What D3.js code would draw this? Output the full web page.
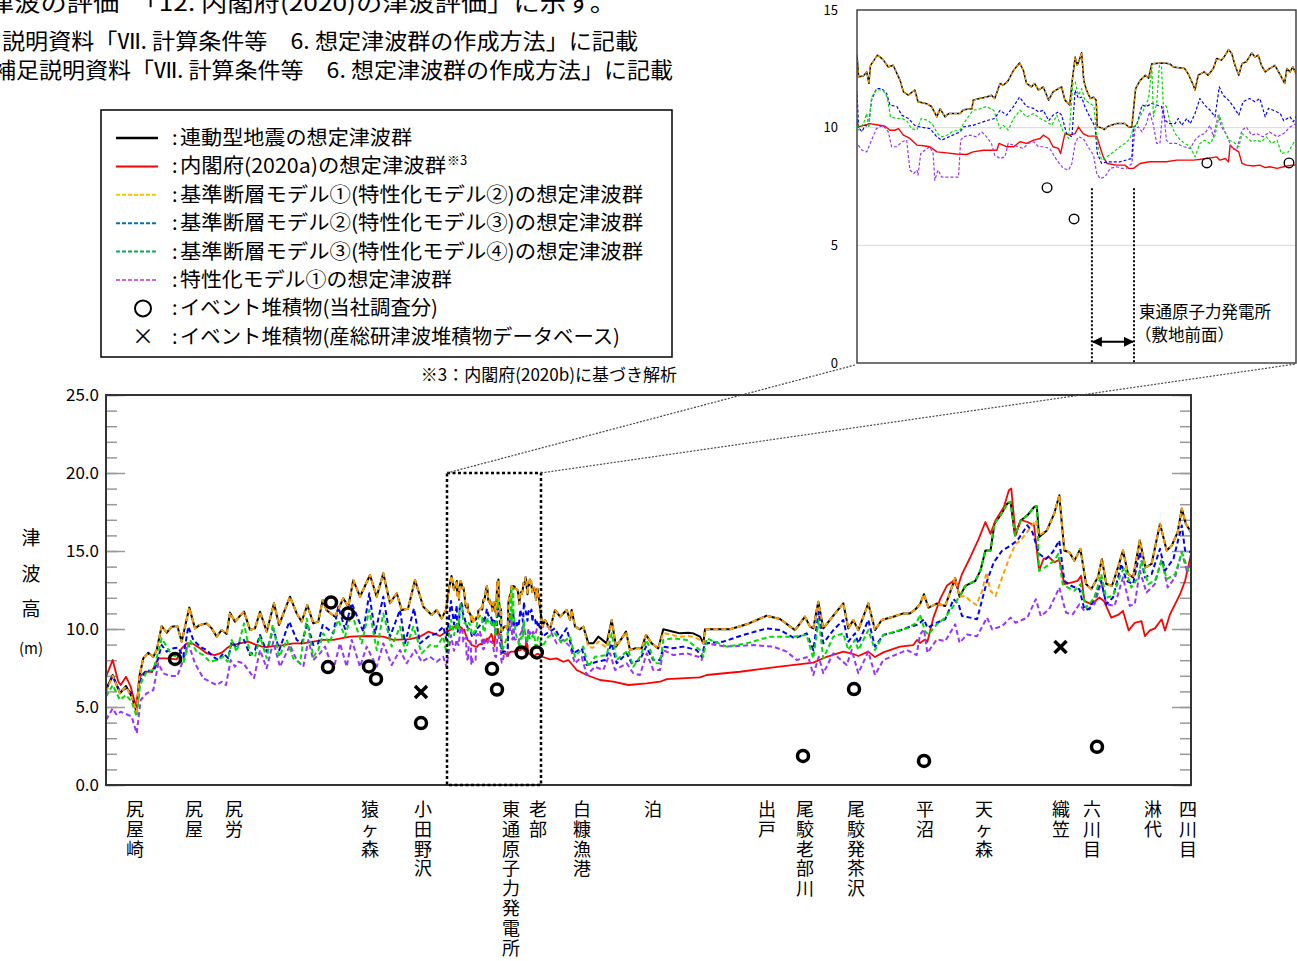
<!DOCTYPE html>
<html><head><meta charset="utf-8">
<script src="https://cdn.jsdelivr.net/npm/d3@7"></script>
<style>
body{margin:0;background:#fff;}
svg{display:block;}
text{font-family:"Noto Sans CJK JP","Noto Sans",sans-serif;fill:#000;}
</style></head><body>
<svg id="c" width="1297" height="961"></svg>
<script>
// ---------------- DATA ----------------
const placeNames = ["尻屋崎","尻屋","尻労","猿ヶ森","小田野沢","東通原子力発電所","老部","白糠漁港","泊","出戸","尾駮老部川","尾駮発茶沢","平沼","天ヶ森","織笠","六川目","淋代","四川目"];
const placePos = [2.9,8.8,12.8,26.4,31.7,40.5,43.2,47.6,54.7,66.1,69.9,75.0,81.9,87.8,95.5,98.6,104.7,108.2];
const yTickValues = [0,5,10,15,20,25];
const insetTickValues = [0,5,10,15];
const seriesNames = ["連動型地震の想定津波群","内閣府(2020a)の想定津波群","基準断層モデル①(特性化モデル②)の想定津波群","基準断層モデル②(特性化モデル③)の想定津波群","基準断層モデル③(特性化モデル④)の想定津波群","特性化モデル①の想定津波群","イベント堆積物(当社調査分)","イベント堆積物(産総研津波堆積物データベース)"];

const blackSeries = [[0,6.09],[0.67,7.05],[1.4,5.88],[2.0,6.35],[2.57,5.66],[3.07,4.7],[3.33,6.94],[3.73,8.12],[4.23,8.48],[4.73,8.22],[5.07,8.65],[5.57,10.19],[6.07,9.76],[6.57,10.15],[7.13,10.19],[7.57,9.19],[8.33,11.37],[8.9,10.04],[9.4,10.26],[10.07,10.36],[10.57,10.04],[11.07,9.51],[11.57,9.94],[12.07,9.68],[12.4,11.05],[12.9,10.47],[13.33,10.79],[13.8,11.11],[14.4,9.94],[14.9,10.04],[15.4,11.11],[16.07,9.83],[16.8,11.65],[17.3,10.26],[18.4,12.07],[19.07,11.0],[19.57,10.47],[20.13,11.54],[20.73,10.36],[21.23,10.47],[21.67,11.86],[22.07,11.2],[22.9,10.79],[23.73,11.97],[24.23,11.43],[24.73,13.14],[25.4,12.07],[26.4,13.46],[27.07,12.07],[27.73,13.57],[28.4,11.65],[29.07,12.29],[29.57,11.22],[30.2,11.3],[30.9,13.14],[31.73,11.43],[32.57,10.9],[33.07,11.22],[33.57,10.68],[34.0,11.22],[34.3,12.6],[34.55,13.4],[34.8,12.5],
[35.08,13.08],[35.11,12.16],[35.2,12.2],[35.26,12.37],[35.3,11.88],[35.33,12.65],[35.46,13.08],[35.56,12.9],[35.66,12.58],[35.75,12.65],[35.88,12.0],[35.94,11.52],[36.03,11.38],[36.15,11.6],[36.21,11.1],[36.37,11.02],[36.46,10.9],[36.56,10.46],[36.62,10.8],[36.71,10.46],[36.78,10.6],[36.99,10.6],[37.05,10.76],[37.21,10.8],[37.23,11.17],[37.35,11.24],[37.48,11.3],[37.57,11.38],[37.63,11.24],[37.73,11.88],[37.79,11.8],[37.88,12.0],[37.98,12.44],[38.09,12.75],[38.16,12.44],[38.22,11.88],[38.31,11.73],[38.37,11.88],[38.44,11.6],[38.53,11.73],[38.63,11.17],[38.71,11.52],[38.81,11.66],[38.87,11.73],[38.93,11.17],[39.02,10.96],[39.06,11.88],[39.12,13.0],[39.16,12.65],[39.2,12.9],[39.24,13.18],[39.28,12.0],[39.33,11.6],[39.4,11.24],[39.46,11.3],[39.51,11.17],[39.53,10.03],[39.61,10.0],[39.66,9.92],[39.73,10.06],[39.89,10.18],[40.04,10.18],[40.11,10.03],[40.17,10.03],[40.2,10.74],[40.24,11.66],[40.32,12.0],[40.42,12.23],[40.48,12.1],[40.54,12.72],[40.75,12.75],[40.87,12.72],[40.94,12.58],[41.15,12.51],[41.21,12.3],[41.31,11.8],[41.34,11.6],[41.4,12.23],[41.51,12.37],[41.58,12.23],[41.68,12.51],[41.74,12.94],[41.83,12.87],[41.9,13.08],[41.96,13.32],[42.02,13.15],[42.08,12.65],[42.15,12.23],[42.21,12.72],[42.29,12.8],[42.39,13.18],[42.45,13.0],[42.51,13.08],[42.57,12.65],[42.64,12.37],[42.72,12.51],[42.82,12.65],[42.92,12.23],[43.0,11.88],[43.04,12.51],[43.1,12.37],[43.15,12.58],[43.21,12.3],
[43.65,10.15],[43.9,10.58],[44.4,9.98],[44.9,11.22],[45.4,10.79],[46.07,11.22],[46.4,10.58],[46.57,11.22],[46.9,10.15],[47.4,9.98],[47.73,10.15],[48.23,9.08],[48.73,9.08],[49.23,9.51],[50.07,9.08],[50.57,10.58],[51.0,8.87],[51.57,9.4],[52.0,9.83],[52.4,8.65],[52.9,8.76],[53.57,8.76],[54.0,9.62],[54.57,9.08],[55.23,8.76],[55.73,9.98],[56.73,9.83],[57.4,9.72],[58.23,9.76],[58.73,9.72],[59.4,9.51],[59.73,9.08],[59.9,9.98],[61.07,9.98],[62.4,9.98],[64.07,10.3],[66.07,10.85],[67.4,10.64],[68.9,9.93],[69.9,10.79],[70.4,10.15],[70.73,10.04],[71.23,11.75],[71.73,10.04],[72.73,10.85],[73.73,11.65],[74.23,10.04],[74.73,10.58],[75.23,9.93],[76.23,11.65],[76.9,9.93],[77.57,10.58],[78.73,10.79],[79.73,11.0],[80.4,11.0],[81.0,11.3],
[81.4,11.59],[81.8,12.23],[82.24,11.37],[83.08,11.63],[83.92,11.48],[84.92,13.26],[85.36,12.06],[85.93,12.77],[86.43,12.92],[86.94,13.09],[87.44,13.74],[87.94,15.03],[88.45,15.03],[88.85,16.75],[89.45,17.29],[90.13,18.04],[90.46,18.15],[90.9,16.0],[91.47,16.96],[92.14,17.29],[92.81,17.82],[93.08,17.87],[93.31,15.89],[94.09,16.32],[94.82,17.39],[95.33,18.58],[95.83,15.03],[96.33,14.92],[96.84,14.38],[97.44,15.14],[98.01,12.88],[98.52,12.55],[99.19,13.31],[99.59,14.49],[100.03,12.88],[100.6,12.77],[101.2,13.95],[101.7,15.03],[102.21,13.52],[102.71,13.31],[103.38,15.67],[103.95,13.95],[104.56,14.17],[105.4,16.75],[106.07,15.03],[106.57,15.35],[107.17,16.21],[107.58,17.72],[107.98,16.75],[108.5,16.21]];

const orangeSeries = [[0,5.95],[0.67,7.0],[1.4,5.88],[2.0,6.3],[2.57,5.66],[3.07,4.7],[3.33,6.94],[3.73,8.12],[4.23,8.48],[4.73,8.22],[5.07,8.65],[5.57,10.19],[6.07,9.76],[6.57,10.15],[7.13,10.19],[7.57,9.19],[8.33,11.37],[8.9,10.04],[9.4,10.26],[10.07,10.36],[10.57,10.04],[11.07,9.51],[11.57,9.94],[12.07,9.68],[12.4,11.05],[12.9,10.47],[13.33,10.79],[13.8,11.11],[14.4,9.94],[14.9,10.04],[15.4,11.11],[16.07,9.83],[16.8,11.65],[17.3,10.26],[18.4,12.07],[19.07,11.0],[19.57,10.47],[20.13,11.54],[20.73,10.36],[21.23,10.47],[21.67,11.86],[22.07,11.2],[22.9,10.79],[23.73,11.97],[24.23,11.43],[24.73,13.14],[25.4,12.07],[26.4,13.46],[27.07,12.07],[27.73,13.57],[28.4,11.65],[29.07,12.29],[29.57,11.22],[30.2,11.3],[30.9,13.14],[31.73,11.43],[32.57,10.9],[33.07,11.22],[33.57,10.68],[34.0,11.22],[34.3,12.6],[34.55,13.4],[34.8,12.5],
[35.08,13.08],[35.11,12.16],[35.2,12.2],[35.26,12.37],[35.3,11.88],[35.33,12.65],[35.46,13.08],[35.56,12.9],[35.66,12.58],[35.75,12.65],[35.88,12.0],[35.94,11.52],[36.03,11.38],[36.15,11.6],[36.21,11.1],[36.37,11.02],[36.46,10.9],[36.56,10.46],[36.62,10.8],[36.71,10.46],[36.78,10.6],[36.99,10.6],[37.05,10.76],[37.21,10.8],[37.23,11.17],[37.35,11.24],[37.48,11.3],[37.57,11.38],[37.63,11.24],[37.73,11.88],[37.79,11.8],[37.88,12.0],[37.98,12.44],[38.09,12.75],[38.16,12.44],[38.22,11.88],[38.31,11.73],[38.37,11.88],[38.44,11.6],[38.53,11.73],[38.63,11.17],[38.71,11.52],[38.81,11.66],[38.87,11.73],[38.93,11.17],[39.02,10.96],[39.06,11.88],[39.12,13.0],[39.16,12.65],[39.2,12.9],[39.24,13.18],[39.28,12.0],[39.33,11.6],[39.4,11.24],[39.46,11.3],[39.51,11.17],[39.53,10.03],[39.61,10.0],[39.66,9.92],[39.73,10.06],[39.89,10.18],[40.04,10.18],[40.11,10.03],[40.17,10.03],[40.2,10.74],[40.24,11.66],[40.32,12.0],[40.42,12.23],[40.48,12.1],[40.54,12.72],[40.75,12.75],[40.87,12.72],[40.94,12.58],[41.15,12.51],[41.21,12.3],[41.31,11.8],[41.34,11.6],[41.4,12.23],[41.51,12.37],[41.58,12.23],[41.68,12.51],[41.74,12.94],[41.83,12.87],[41.9,13.08],[41.96,13.32],[42.02,13.15],[42.08,12.65],[42.15,12.23],[42.21,12.72],[42.29,12.8],[42.39,13.18],[42.45,13.0],[42.51,13.08],[42.57,12.65],[42.64,12.37],[42.72,12.51],[42.82,12.65],[42.92,12.23],[43.0,11.88],[43.04,12.51],[43.1,12.37],[43.15,12.58],[43.21,12.3],
[43.65,10.15],[43.9,10.58],[44.4,9.98],[44.9,11.22],[45.4,10.79],[46.07,11.22],[46.4,10.58],[46.57,11.22],[46.9,10.15],[47.4,9.98],[47.73,10.15],[48.23,8.85],[48.73,8.8],[49.23,9.2],[50.07,8.8],[50.57,10.58],[51.0,8.87],[51.57,9.4],[52.0,9.83],[52.4,8.65],[52.9,8.76],[53.57,8.76],[54.0,9.62],[54.57,9.08],[55.23,8.76],[55.73,9.75],[56.73,9.6],[57.4,9.5],[58.23,9.55],[58.73,9.5],[59.4,9.3],[59.73,9.08],[59.9,9.98],[61.07,9.98],[62.4,9.98],[64.07,10.3],[66.07,10.85],[67.4,10.64],[68.9,9.93],[69.9,10.79],[70.4,10.15],[70.73,10.04],[71.23,11.75],[71.73,10.04],[72.73,10.85],[73.73,11.65],[74.23,10.04],[74.73,10.58],[75.23,9.93],[76.23,11.65],[76.9,9.93],[77.57,10.58],[78.73,10.79],[79.73,11.0],[80.4,11.0],[81.0,11.3],
[81.4,11.59],[81.8,12.23],[82.24,11.37],[83.08,11.63],[83.92,11.48],[84.92,13.26],[85.36,12.06],[85.93,12.12],[86.43,11.8],[87.04,11.54],[87.61,12.45],[88.05,13.63],[88.45,12.45],[88.95,12.12],[89.62,13.31],[90.29,14.49],[90.96,15.46],[91.47,15.67],[91.97,16.1],[92.48,16.53],[92.98,16.96],[93.31,16.0],[94.09,16.32],[94.82,17.39],[95.33,18.58],[95.83,15.03],[96.33,14.92],[96.84,14.38],[97.44,15.14],[98.01,12.88],[98.52,12.55],[99.19,13.31],[99.59,14.49],[100.03,12.88],[100.6,12.77],[101.2,13.95],[101.7,15.03],[102.21,13.52],[102.71,13.31],[103.38,15.67],[103.95,13.95],[104.56,14.17],[105.4,16.75],[106.07,15.03],[106.57,15.35],[107.17,16.21],[107.58,17.72],[107.98,16.75],[108.5,16.21]];

const redSeries = [[0,6.94],[0.67,8.01],[1.23,6.62],[1.47,6.41],[2.0,6.94],[2.47,6.3],[3.0,5.02],[3.4,6.94],[3.9,7.26],[4.57,7.26],[5.23,8.12],[6.07,8.12],[7.07,8.05],[7.57,8.76],[8.07,9.08],[8.73,9.04],[9.4,8.76],[10.07,8.44],[10.9,8.33],[11.57,8.48],[12.07,8.76],[12.57,8.97],[13.4,9.08],[14.23,9.19],[15.07,8.97],[15.9,8.83],[16.73,8.9],[17.73,8.97],[18.73,9.08],[19.73,9.08],[20.73,9.19],[21.73,9.3],[22.73,9.3],[24.4,9.51],[26.07,9.55],[27.73,9.51],[28.73,9.3],[30.4,9.35],[31.4,9.51],[32.23,9.83],[32.73,9.72],[33.4,9.55],[34.0,9.8],[34.6,10.0],
[35.08,10.3],[35.11,10.03],[35.2,10.1],[35.32,10.17],[35.5,10.1],[35.6,10.06],[35.69,9.89],[35.78,9.89],[35.85,9.96],[35.94,9.68],[36.06,9.54],[36.19,9.26],[36.31,9.23],[36.43,9.19],[36.56,8.97],[36.74,8.93],[36.92,8.88],[37.11,8.86],[37.23,8.97],[37.42,9.04],[37.67,9.04],[37.71,9.33],[37.85,9.19],[37.98,9.19],[38.1,9.4],[38.22,9.33],[38.35,9.47],[38.47,9.54],[38.53,9.68],[38.63,9.54],[38.71,9.19],[38.81,9.12],[38.85,8.9],[38.93,9.75],[39.02,9.68],[39.12,9.75],[39.18,10.03],[39.27,9.75],[39.36,9.64],[39.52,9.64],[39.58,9.19],[39.64,8.76],[39.71,8.48],[39.89,8.41],[40.04,8.41],[40.11,8.27],[40.2,8.27],[40.32,8.48],[40.5,8.55],[40.81,8.55],[41.0,8.62],[41.31,8.62],[41.56,8.69],[41.74,8.76],[41.8,8.62],[41.9,8.69],[41.96,8.55],[41.99,9.26],[42.05,9.12],[42.15,8.97],[42.21,8.48],[42.29,8.41],[42.42,8.37],[42.54,8.41],[42.64,8.3],[42.72,8.34],[42.86,8.27],[42.98,8.34],[43.13,8.41],[43.21,8.41],
[43.65,8.22],[44.4,8.05],[45.07,8.12],[45.73,7.9],[46.23,8.01],[47.07,7.37],[48.07,7.05],[49.4,6.73],[50.73,6.62],[52.23,6.41],[54.07,6.52],[55.4,6.62],[56.07,6.79],[59.4,6.9],[60.07,7.05],[63.4,7.26],[66.73,7.54],[70.73,7.84],[72.07,8.22],[73.73,8.55],[74.73,8.4],[75.23,8.27],[76.23,8.55],[76.9,8.2],[77.73,8.5],[79.4,8.87],[80.73,8.97],[81.1,9.3],
[81.4,9.11],[81.9,9.33],[82.14,9.18],[82.74,10.73],[83.41,11.91],[84.08,12.77],[84.76,13.09],[85.16,12.66],[85.6,13.52],[86.43,14.6],[87.27,15.78],[87.94,16.86],[88.45,16.1],[88.95,16.96],[89.79,17.82],[90.29,18.9],[90.53,19.01],[90.96,16.0],[91.47,17.0],[92.14,16.86],[92.81,16.64],[93.31,13.74],[93.75,14.49],[94.32,14.6],[94.82,14.28],[95.33,14.43],[95.83,12.88],[96.5,12.98],[97.17,13.09],[97.51,13.41],[97.84,11.8],[98.52,11.59],[99.35,12.02],[99.79,11.8],[100.53,10.73],[101.2,10.9],[101.7,11.16],[102.27,9.91],[102.88,10.4],[103.55,10.51],[103.89,9.54],[104.39,9.91],[104.89,10.04],[105.56,10.62],[105.9,9.91],[106.4,10.94],[106.91,11.59],[107.41,12.23],[107.91,13.09],[108.5,14.8]];

const blueSeries = [[0,6.2],[0.67,6.94],[1.4,5.98],[2.0,6.2],[2.57,5.88],[3.07,4.6],[3.4,6.73],[4.07,7.37],[4.73,7.26],[5.07,7.8],[5.57,8.97],[6.07,8.55],[6.73,8.76],[7.23,8.8],[7.73,8.22],[8.23,10.15],[8.73,9.3],[9.4,8.87],[10.07,8.65],[10.73,8.22],[11.23,8.01],[11.73,8.44],[12.23,8.12],[12.57,9.19],[13.07,8.8],[13.4,9.19],[13.8,9.3],[14.4,8.33],[14.9,8.65],[15.4,9.62],[16.07,8.55],[16.73,10.04],[17.33,8.65],[18.33,10.47],[19.07,9.3],[19.57,9.08],[20.13,10.36],[20.73,8.97],[21.23,9.08],[21.67,10.26],[22.73,9.72],[23.23,11.43],[23.9,10.0],[24.57,11.65],[25.73,9.83],[26.33,12.29],[26.9,9.72],[27.73,12.07],[28.4,9.51],[29.4,11.22],[29.9,9.08],[30.8,11.33],[31.4,9.08],[32.23,9.51],[33.07,9.72],[33.73,10.15],[34.05,9.3],[34.5,11.8],[34.8,10.3],
[35.08,11.52],[35.11,10.03],[35.17,9.82],[35.23,10.1],[35.29,10.03],[35.35,11.17],[35.44,11.66],[35.54,11.66],[35.63,11.45],[35.69,10.96],[35.82,10.9],[35.91,10.53],[36.03,10.39],[36.15,10.1],[36.25,10.03],[36.43,9.96],[36.56,9.61],[36.65,9.47],[36.78,9.61],[36.99,9.82],[37.05,10.03],[37.23,10.1],[37.48,10.3],[37.63,10.39],[37.73,10.74],[37.85,10.53],[37.98,10.9],[38.09,11.3],[38.22,10.9],[38.35,10.82],[38.44,10.67],[38.53,10.74],[38.63,10.3],[38.71,10.53],[38.81,10.67],[38.87,10.53],[38.96,9.75],[39.06,9.61],[39.12,11.59],[39.18,11.24],[39.24,11.3],[39.3,10.9],[39.36,10.6],[39.43,10.3],[39.49,10.03],[39.53,8.9],[39.61,8.48],[39.71,8.55],[39.95,8.55],[40.17,8.69],[40.2,10.03],[40.26,10.1],[40.36,10.96],[40.44,10.9],[40.54,11.03],[40.63,10.96],[40.72,10.9],[40.79,10.3],[40.87,10.17],[40.97,10.17],[41.03,10.39],[41.09,10.1],[41.19,10.39],[41.25,10.17],[41.34,10.6],[41.43,11.24],[41.52,10.96],[41.62,10.74],[41.71,10.46],[41.79,11.73],[41.86,11.38],[41.96,11.17],[42.05,10.9],[42.15,10.53],[42.23,11.1],[42.35,11.24],[42.45,11.1],[42.54,11.24],[42.64,10.46],[42.7,10.82],[42.79,10.74],[42.92,10.6],[42.98,10.3],[43.1,10.46],[43.16,10.25],[43.21,10.46],
[43.65,9.51],[44.07,9.72],[44.9,10.04],[45.4,9.4],[46.07,10.04],[46.73,8.44],[47.57,8.76],[48.07,7.69],[49.07,7.9],[49.9,8.01],[50.57,9.08],[51.07,7.8],[52.07,8.44],[52.57,7.8],[53.4,8.01],[54.0,8.87],[54.73,8.01],[55.4,8.01],[55.73,8.87],[56.73,8.76],[57.73,8.87],[59.07,8.65],[59.57,8.22],[59.9,9.08],[61.73,9.19],[63.73,9.62],[66.07,10.04],[67.4,9.93],[68.9,9.4],[70.07,9.72],[70.73,8.65],[71.27,11.11],[71.73,9.08],[72.73,9.93],[73.73,10.58],[74.23,9.19],[74.9,9.72],[75.23,9.08],[76.23,10.58],[76.9,8.87],[77.73,9.62],[79.07,9.83],[80.4,10.15],[81.07,10.26],
[81.4,10.4],[81.8,10.62],[82.14,10.08],[83.08,10.4],[83.92,10.62],[84.76,11.91],[85.26,11.59],[85.6,10.83],[86.43,10.73],[87.1,10.62],[88.11,13.09],[88.78,14.28],[89.62,15.03],[90.46,15.35],[91.13,15.67],[92.14,16.64],[92.64,16.21],[93.31,14.82],[93.99,14.49],[94.66,14.92],[95.33,15.67],[95.83,13.09],[96.5,12.77],[97.34,12.55],[97.84,11.27],[98.35,11.27],[98.85,12.02],[99.52,13.09],[100.03,11.59],[100.7,12.02],[101.54,14.17],[102.04,13.09],[102.71,12.88],[103.38,14.92],[103.89,13.31],[104.56,13.52],[105.4,15.14],[105.9,13.74],[106.74,14.49],[107.58,16.64],[107.91,15.03],[108.5,14.92]];

const greenSeries = [[0,5.66],[0.67,6.41],[1.4,5.45],[2.0,5.77],[2.57,5.34],[3.07,4.38],[3.4,6.41],[4.07,7.26],[4.73,7.37],[5.23,8.55],[5.57,9.4],[6.07,8.87],[6.57,8.33],[7.23,8.22],[7.73,7.8],[8.4,9.3],[9.07,8.55],[9.73,8.33],[10.4,7.9],[11.07,8.01],[11.73,8.22],[12.17,7.9],[12.57,9.3],[13.07,8.55],[13.8,10.36],[14.4,8.44],[14.9,8.22],[15.4,9.51],[16.07,8.12],[16.67,10.26],[17.33,8.22],[18.07,9.3],[18.73,8.12],[19.4,7.8],[20.07,10.68],[20.73,8.22],[21.23,8.65],[21.73,9.72],[22.33,9.08],[23.23,10.58],[23.9,9.51],[24.57,11.0],[25.57,9.08],[26.33,11.22],[27.07,8.65],[27.73,11.0],[28.57,8.87],[29.4,10.15],[29.9,8.55],[30.73,10.15],[31.57,8.44],[32.4,8.97],[33.07,8.87],[33.73,9.51],[34.05,8.44],[34.5,10.6],[34.8,9.6],
[35.08,10.4],[35.11,9.9],[35.2,10.17],[35.26,10.6],[35.3,10.0],[35.35,11.3],[35.44,11.6],[35.56,11.6],[35.64,11.3],[35.7,10.46],[35.82,10.39],[35.91,10.39],[36.0,10.3],[36.09,9.96],[36.19,9.9],[36.27,10.39],[36.4,10.3],[36.49,10.1],[36.57,9.75],[36.65,9.61],[36.74,9.68],[36.86,9.85],[36.99,9.9],[37.05,10.17],[37.23,10.74],[37.35,10.8],[37.48,10.9],[37.61,10.74],[37.73,9.96],[37.79,10.1],[37.88,9.9],[37.98,10.39],[38.1,10.74],[38.22,10.46],[38.35,10.6],[38.47,10.39],[38.59,10.25],[38.69,10.1],[38.78,10.53],[38.9,9.82],[39.0,9.54],[39.08,11.88],[39.12,11.95],[39.18,11.38],[39.24,11.66],[39.3,11.17],[39.4,11.03],[39.47,10.9],[39.53,9.33],[39.61,8.62],[39.71,8.76],[39.83,8.97],[39.95,9.19],[40.04,9.33],[40.14,9.54],[40.2,10.03],[40.26,10.17],[40.32,10.46],[40.42,10.9],[40.48,11.24],[40.54,12.58],[40.57,10.46],[40.63,11.03],[40.68,12.65],[40.72,12.58],[40.75,11.03],[40.81,10.9],[40.87,10.3],[40.97,9.75],[41.07,9.47],[41.15,9.33],[41.25,9.19],[41.34,8.76],[41.43,9.33],[41.52,9.47],[41.62,9.33],[41.71,9.68],[41.79,10.53],[41.86,10.03],[41.96,9.47],[42.05,9.4],[42.15,9.19],[42.21,9.75],[42.29,9.61],[42.39,9.4],[42.48,9.47],[42.57,9.4],[42.66,9.61],[42.76,9.33],[42.86,9.47],[42.94,8.9],[43.07,8.97],[43.16,9.33],[43.21,9.47],
[43.65,8.87],[44.23,9.51],[44.9,9.72],[45.57,9.08],[46.4,9.51],[46.9,8.22],[47.73,8.87],[48.23,7.58],[48.9,8.22],[50.07,8.33],[50.57,9.72],[51.07,8.01],[52.23,8.65],[52.73,7.58],[53.4,8.22],[54.07,9.3],[54.9,7.8],[55.4,7.8],[55.73,9.3],[56.73,9.4],[58.07,9.3],[59.4,8.65],[59.73,8.22],[60.07,9.4],[62.07,8.87],[64.07,9.08],[66.4,9.51],[68.73,9.51],[70.07,9.62],[70.73,8.12],[71.27,10.58],[71.73,8.12],[72.73,9.51],[73.73,9.72],[74.23,8.65],[74.9,9.3],[75.23,8.65],[76.23,9.93],[76.9,8.65],[77.73,9.62],[80.07,10.04],[81.07,10.4],
[81.4,10.94],[81.9,9.86],[82.24,9.65],[83.08,10.3],[83.92,10.73],[84.76,11.48],[85.16,11.91],[85.36,12.06],[85.93,12.77],[86.43,12.92],[86.94,13.09],[87.44,13.74],[87.94,15.03],[88.45,15.03],[88.85,16.75],[89.45,17.29],[90.13,18.04],[90.46,18.15],[90.9,16.0],[91.47,16.96],[92.14,17.29],[92.81,17.82],[93.08,17.87],[93.31,13.74],[93.65,13.84],[94.15,14.06],[94.82,14.38],[95.23,14.82],[95.66,12.88],[96.17,12.66],[96.84,12.45],[97.44,12.88],[98.01,11.37],[98.85,12.02],[99.52,13.52],[100.03,12.02],[100.7,12.12],[101.54,13.63],[101.87,13.95],[102.54,12.66],[103.21,13.31],[103.55,14.38],[104.22,12.88],[104.89,13.09],[105.56,14.38],[106.07,13.2],[106.91,13.52],[107.58,14.92],[108.25,13.74],[108.5,13.95]];

const purpleSeries = [[0,4.17],[0.67,4.91],[1.07,4.49],[1.47,4.7],[2.0,4.55],[2.57,4.38],[3.07,3.31],[3.47,5.45],[4.07,5.88],[4.73,6.09],[5.23,7.8],[5.73,7.16],[6.4,6.99],[7.13,6.99],[7.73,8.01],[8.23,9.08],[8.9,7.8],[9.73,6.84],[10.4,6.62],[11.07,6.41],[11.57,6.62],[12.0,6.41],[12.47,8.01],[12.9,7.58],[13.23,7.9],[13.73,7.8],[14.23,7.37],[14.8,6.84],[15.4,8.65],[16.07,7.48],[16.73,9.19],[17.4,7.58],[18.4,8.97],[19.07,8.01],[19.73,7.58],[20.23,9.3],[20.73,8.01],[21.4,8.44],[21.9,8.87],[22.73,7.37],[23.4,9.08],[24.07,7.58],[24.57,9.3],[25.4,7.58],[26.07,8.87],[27.07,7.58],[27.73,9.08],[28.57,7.69],[29.4,8.65],[30.07,7.8],[30.9,8.65],[31.57,7.9],[32.4,8.22],[33.07,7.9],[33.73,8.22],[34.05,7.58],[34.5,9.6],[34.8,8.6],
[35.08,9.33],[35.17,9.05],[35.26,8.97],[35.35,9.47],[35.44,9.96],[35.56,10.1],[35.66,9.82],[35.72,9.19],[35.82,9.19],[35.91,9.4],[36.0,9.47],[36.06,8.2],[36.13,8.05],[36.19,8.2],[36.21,7.98],[36.26,8.9],[36.34,9.05],[36.43,9.19],[36.49,8.9],[36.52,7.77],[36.58,8.2],[36.65,7.9],[36.74,7.9],[36.96,7.9],[37.0,9.47],[37.05,9.61],[37.17,9.68],[37.29,9.61],[37.39,9.82],[37.48,9.61],[37.57,9.33],[37.63,8.83],[37.73,8.69],[37.82,8.76],[37.88,9.33],[37.98,9.26],[38.06,9.19],[38.16,9.12],[38.25,9.33],[38.35,9.4],[38.44,9.19],[38.53,9.19],[38.65,9.12],[38.78,8.62],[38.9,8.27],[39.0,8.2],[39.06,8.48],[39.12,9.33],[39.18,9.61],[39.27,9.54],[39.36,9.19],[39.46,8.83],[39.52,8.05],[39.58,7.84],[39.67,7.9],[39.77,8.27],[39.89,8.34],[39.98,8.27],[40.07,8.27],[40.17,8.48],[40.23,9.96],[40.29,10.03],[40.36,9.82],[40.44,10.17],[40.5,10.67],[40.57,10.1],[40.63,9.33],[40.69,9.33],[40.75,10.9],[40.81,9.47],[40.87,9.33],[41.0,9.33],[41.13,9.19],[41.25,9.12],[41.34,9.47],[41.43,9.68],[41.52,9.75],[41.62,10.1],[41.68,9.61],[41.77,10.53],[41.83,10.03],[41.93,9.68],[42.02,9.12],[42.11,9.05],[42.21,9.89],[42.29,10.03],[42.39,9.68],[42.48,9.75],[42.6,9.61],[42.72,9.82],[42.86,9.61],[42.98,9.75],[43.1,10.03],[43.21,10.17],
[44.23,10.15],[45.07,9.08],[45.73,9.3],[46.4,8.87],[46.9,7.8],[47.57,8.22],[48.07,7.05],[48.9,7.58],[49.73,7.37],[50.4,8.44],[50.9,7.37],[52.07,7.8],[52.73,7.16],[53.4,7.05],[54.07,8.44],[54.73,7.37],[55.4,7.37],[55.73,8.65],[56.73,8.33],[58.07,8.44],[59.23,8.22],[59.57,8.01],[59.9,9.08],[62.07,8.87],[64.73,8.97],[66.73,8.87],[68.07,8.55],[69.07,8.01],[70.23,8.22],[70.73,7.05],[71.27,8.22],[71.73,7.16],[72.73,8.44],[74.07,7.69],[74.57,8.65],[75.23,7.16],[76.23,8.55],[76.9,7.05],[77.73,8.01],[80.07,8.65],[81.07,8.33],
[81.4,9.65],[81.8,9.97],[82.14,8.47],[83.08,9.33],[83.92,9.22],[84.92,10.3],[85.36,9.11],[86.1,9.65],[87.1,9.54],[88.11,10.73],[88.62,9.97],[89.62,10.19],[90.46,10.73],[90.96,10.4],[92.14,10.73],[92.98,11.91],[93.48,10.83],[94.32,11.27],[95.33,12.66],[96.0,11.05],[96.67,10.94],[97.34,11.59],[97.84,11.16],[98.18,11.27],[98.85,11.59],[99.52,12.98],[100.03,11.59],[100.86,11.48],[101.7,13.31],[102.38,11.48],[102.88,11.59],[103.38,13.74],[104.05,12.34],[104.89,12.88],[105.56,14.49],[106.17,12.66],[106.91,13.31],[107.58,14.92],[108.08,13.74],[108.5,14.17]];

const eventCircles = [[6.9,8.08],[22.2,7.56],[22.5,11.7],[24.2,11.0],[26.3,7.6],[27.0,6.8],[31.5,3.97],[38.6,7.45],[39.1,6.12],[41.56,8.5],[43.08,8.5],[69.7,1.86],[74.8,6.15],[81.8,1.54],[99.1,2.45]];
const eventCrosses = [[31.5,5.96],[95.45,8.85]];
const boxRange = [34.1,43.5];
const insetRange = [35.08,43.21];
const zoomBoxTop = 20;
const plantSpan = [39.43,40.21];
const plantMarkTop = 7.43;
const plantArrowAt = 0.9;

// ---------------- LAYOUT ----------------
const svg = d3.select("#c");
const M = {l:106, r:1191, t:395, b:785};
const I = {l:857, r:1296, t:10, b:363};
const x = d3.scaleLinear().domain([0,108.5]).range([M.l,M.r]);
const y = d3.scaleLinear().domain([0,25]).range([M.b,M.t]);
const xi = d3.scaleLinear().domain(insetRange).range([I.l,I.r]);
const yi = d3.scaleLinear().domain([0,15]).range([I.b,I.t]);

const styles = [
 {data:blackSeries, color:"#000", w:2, dash:null, iw:1.5},
 {data:redSeries, color:"#ff0000", w:1.8, dash:null, iw:1.4},
 {data:purpleSeries, color:"#9933ff", w:2, dash:"5,3", iw:1.2, idash:"3,2"},
 {data:blueSeries, color:"#0000ff", w:2, dash:"5,3", iw:1.2, idash:"3,2"},
 {data:greenSeries, color:"#00dd00", w:2, dash:"5,3", iw:1.2, idash:"3,2"},
 {data:orangeSeries, color:"#ffa000", w:2, dash:"5,3", iw:1.3, idash:"3,2"}
];

// ---- top texts ----
svg.append("text").attr("x",-12).attr("y",11).attr("font-size",22).attr("textLength",628).attr("lengthAdjust","spacingAndGlyphs")
  .text("津波の評価　「12. 内閣府(2020)の津波評価」に示す。");
svg.append("text").attr("x",2).attr("y",49).attr("font-size",21.5).attr("textLength",636).attr("lengthAdjust","spacingAndGlyphs")
  .text("説明資料「Ⅶ. 計算条件等　6. 想定津波群の作成方法」に記載");
svg.append("text").attr("x",-7).attr("y",78).attr("font-size",21.5).attr("textLength",680).attr("lengthAdjust","spacingAndGlyphs")
  .text("補足説明資料「Ⅶ. 計算条件等　6. 想定津波群の作成方法」に記載");

// ---- legend ----
const lg = svg.append("g");
lg.append("rect").attr("x",101).attr("y",110).attr("width",571).attr("height",247).attr("fill","#fff").attr("stroke","#000").attr("stroke-width",1.5);
const legendStyles = [
 {color:"#000", dash:null, w:2.5},
 {color:"#ff0000", dash:null, w:2},
 {color:"#ffc000", dash:"4,2", w:2},
 {color:"#0070c0", dash:"4,2", w:2},
 {color:"#00b050", dash:"4,2", w:2},
 {color:"#cc66cc", dash:"4,2", w:2},
 {mark:"o"},{mark:"x"}
];
const legendEnds = [412,446,643,643,643,452,438,620];
seriesNames.forEach((name,i)=>{
  const cy = 138 + i*28.4;
  const st = legendStyles[i];
  if(st.mark==="o"){
    lg.append("circle").attr("cx",143).attr("cy",cy).attr("r",8).attr("fill","none").attr("stroke","#000").attr("stroke-width",2);
  } else if(st.mark==="x"){
    lg.append("text").attr("x",143).attr("y",cy+7).attr("text-anchor","middle").attr("font-size",22).text("×");
  } else {
    lg.append("line").attr("x1",116).attr("x2",158).attr("y1",cy).attr("y2",cy).attr("stroke",st.color).attr("stroke-width",st.w).attr("stroke-dasharray",st.dash);
  }
  lg.append("text").attr("x",172).attr("y",cy+7).attr("font-size",20).text(":");
  lg.append("text").attr("x",180).attr("y",cy+7).attr("font-size",20)
     .attr("textLength",legendEnds[i]-180).attr("lengthAdjust","spacingAndGlyphs").text(name);
  if(i===1){
    lg.append("text").attr("x",447).attr("y",cy-1).attr("font-size",13).text("※3");
  }
});
svg.append("text").attr("x",677).attr("y",381).attr("text-anchor","end").attr("font-size",17).text("※3：内閣府(2020b)に基づき解析");

// ---- main plot ----
const gm = svg.append("g");
svg.append("clipPath").attr("id","mclip").append("rect").attr("x",M.l).attr("y",M.t).attr("width",M.r-M.l).attr("height",M.b-M.t);
const minor = d3.range(0,26,1);
const addTicks = (axis, xpos)=>gm.append("g").attr("transform",`translate(${xpos},0)`).call(axis)
   .call(g=>{g.select(".domain").remove(); g.selectAll("line").attr("stroke","#999").attr("stroke-width",1.5); g.selectAll("text").remove();});
addTicks(d3.axisRight(y).tickValues(minor).tickSize(11), M.l);
addTicks(d3.axisRight(y).tickValues(yTickValues).tickSize(19), M.l);
addTicks(d3.axisLeft(y).tickValues(minor).tickSize(11), M.r);
addTicks(d3.axisLeft(y).tickValues(yTickValues).tickSize(19), M.r);
gm.append("g").attr("transform",`translate(${M.l},0)`)
  .call(d3.axisLeft(y).tickValues(yTickValues).tickSize(0).tickPadding(7).tickFormat(d3.format(".1f")))
  .call(g=>{g.select(".domain").remove(); g.selectAll("text").attr("font-size",17).attr("fill","#000").attr("font-family","Liberation Sans, Arial, sans-serif");});

const lineM = d3.line().x(d=>x(d[0])).y(d=>y(d[1]));
const lines = gm.append("g").attr("clip-path","url(#mclip)");
styles.forEach(s=>{
  lines.append("path").attr("d",lineM(s.data)).attr("fill","none").attr("stroke",s.color)
    .attr("stroke-width",s.w).attr("stroke-dasharray",s.dash).attr("stroke-linejoin","round");
});
gm.append("rect").attr("x",M.l).attr("y",M.t).attr("width",M.r-M.l).attr("height",M.b-M.t).attr("fill","none").attr("stroke","#333").attr("stroke-width",2);

gm.selectAll(".ec").data(eventCircles).enter().append("circle")
  .attr("cx",d=>x(d[0])).attr("cy",d=>y(d[1])).attr("r",5.5).attr("fill","none").attr("stroke","#000").attr("stroke-width",3.5);
gm.selectAll(".ex").data(eventCrosses).enter().append("path")
  .attr("transform",d=>`translate(${x(d[0])},${y(d[1])})`)
  .attr("d","M-6,-6L6,6M-6,6L6,-6").attr("stroke","#000").attr("stroke-width",3.5).attr("fill","none");

gm.append("rect").attr("x",x(boxRange[0])).attr("y",y(zoomBoxTop)).attr("width",x(boxRange[1])-x(boxRange[0]))
  .attr("height",y(0)-y(zoomBoxTop)).attr("fill","none").attr("stroke","#000").attr("stroke-width",2.5).attr("stroke-dasharray","3,2.5");
svg.append("line").attr("x1",x(boxRange[0])).attr("y1",y(zoomBoxTop)).attr("x2",I.l-2).attr("y2",yi(0)+2)
  .attr("stroke","#444").attr("stroke-width",1.2).attr("stroke-dasharray","2,1.5");
svg.append("line").attr("x1",x(boxRange[1])).attr("y1",y(zoomBoxTop)).attr("x2",I.r).attr("y2",yi(0)+1)
  .attr("stroke","#444").attr("stroke-width",1.2).attr("stroke-dasharray","2,1.5");

const yl = svg.append("g");
["津","波","高"].forEach((c,i)=>yl.append("text").attr("x",31).attr("y",545+i*35.5).attr("text-anchor","middle").attr("font-size",19).text(c));
yl.append("text").attr("x",31).attr("y",654).attr("text-anchor","middle").attr("font-size",15).text("(m)");

placeNames.forEach((n,i)=>{
  const t = svg.append("text").attr("font-size",18).attr("text-anchor","middle");
  Array.from(n).forEach((ch,j)=>{
    t.append("tspan").attr("x",x(placePos[i])).attr("y",816+j*19.8).text(ch);
  });
});

// ---- inset ----
const gi = svg.append("g");
gi.append("rect").attr("x",I.l).attr("y",I.t).attr("width",I.r-I.l).attr("height",I.b-I.t).attr("fill","#fff");
svg.append("clipPath").attr("id","iclip").append("rect").attr("x",I.l).attr("y",I.t).attr("width",I.r-I.l).attr("height",I.b-I.t);
gi.append("g").selectAll("line").data([5,10]).enter().append("line")
  .attr("x1",I.l).attr("x2",I.r).attr("y1",d=>yi(d)).attr("y2",d=>yi(d)).attr("stroke","#d8d8d8").attr("stroke-width",1);
gi.append("g").attr("transform",`translate(${I.l},0)`)
  .call(d3.axisLeft(yi).tickValues(insetTickValues).tickSize(0).tickPadding(19).tickFormat(d3.format("d")))
  .call(g=>{g.select(".domain").remove(); g.selectAll("text").attr("font-size",13).attr("fill","#000").attr("font-family","Liberation Sans, Arial, sans-serif");});
const lineI = d3.line().x(d=>xi(d[0])).y(d=>yi(d[1]));
const ilines = gi.append("g").attr("clip-path","url(#iclip)");
styles.forEach(s=>{
  ilines.append("path").attr("d",lineI(s.data.filter(d=>d[0]>=insetRange[0]-0.3&&d[0]<=insetRange[1]+0.5)))
    .attr("fill","none").attr("stroke",s.color).attr("stroke-width",s.iw).attr("stroke-dasharray",s.idash||null).attr("stroke-linejoin","round");
});
gi.selectAll(".ic").data(eventCircles.filter(d=>d[0]>=insetRange[0]&&d[0]<=insetRange[1])).enter().append("circle")
  .attr("cx",d=>xi(d[0])).attr("cy",d=>yi(d[1])).attr("r",4.8).attr("fill","none").attr("stroke","#000").attr("stroke-width",1.4);
plantSpan.forEach(v=>{
  gi.append("line").attr("x1",xi(v)).attr("x2",xi(v)).attr("y1",yi(plantMarkTop)).attr("y2",yi(0))
    .attr("stroke","#000").attr("stroke-width",2).attr("stroke-dasharray","2,2");
});
const defs = svg.append("defs");
defs.append("marker").attr("id","ah").attr("viewBox","0 0 10 10").attr("refX",9).attr("refY",5)
  .attr("markerWidth",5).attr("markerHeight",5).attr("orient","auto-start-reverse")
  .append("path").attr("d","M0,0L10,5L0,10z").attr("fill","#000");
gi.append("line").attr("x1",xi(plantSpan[0])+1).attr("x2",xi(plantSpan[1])-1).attr("y1",yi(plantArrowAt)).attr("y2",yi(plantArrowAt))
  .attr("stroke","#000").attr("stroke-width",2).attr("marker-start","url(#ah)").attr("marker-end","url(#ah)");
gi.append("text").attr("x",xi(plantSpan[1])+5).attr("y",318).attr("font-size",16.5).text("東通原子力発電所");
gi.append("text").attr("x",xi(plantSpan[1])+1).attr("y",341).attr("font-size",16.5).text("（敷地前面）");
gi.append("rect").attr("x",I.l).attr("y",I.t).attr("width",I.r-I.l).attr("height",I.b-I.t).attr("fill","none").attr("stroke","#444").attr("stroke-width",1.5);
</script>
</body></html>
